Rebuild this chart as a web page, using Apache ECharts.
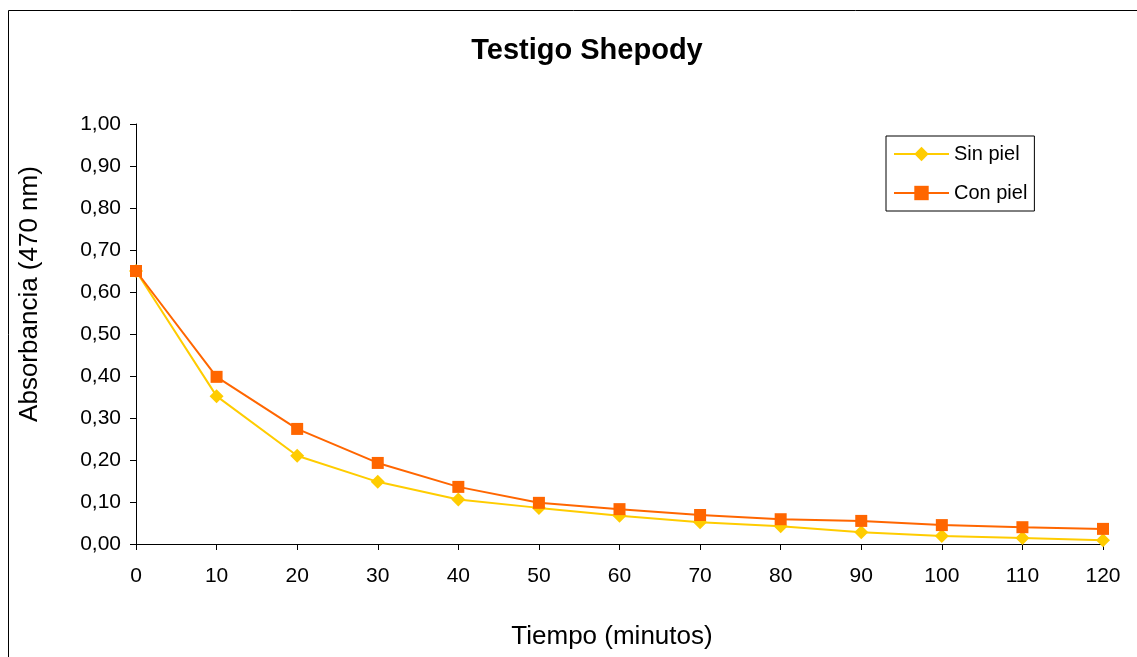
<!DOCTYPE html>
<html>
<head>
<meta charset="utf-8">
<script src="https://cdn.jsdelivr.net/npm/echarts@6/dist/echarts.min.js"></script>
<style>html,body{margin:0;padding:0;background:#fff}#c{width:1137px;height:657px}</style>
</head>
<body>
<div id="c"></div>
<script>
const categories = ['0','10','20','30','40','50','60','70','80','90','100','110','120'];
const sinPiel = [0.65, 0.352, 0.21, 0.148, 0.106, 0.086, 0.067, 0.052, 0.042, 0.028, 0.019, 0.014, 0.009];
const conPiel = [0.65, 0.398, 0.274, 0.193, 0.136, 0.098, 0.083, 0.069, 0.059, 0.055, 0.045, 0.040, 0.036];
const titleText = 'Testigo Shepody';
const xName = 'Tiempo (minutos)';
const yName = 'Absorbancia (470 nm)';

const chart = echarts.init(document.getElementById('c'), null, {renderer: 'canvas'});
const font = 'Liberation Sans, Arial, sans-serif';
chart.setOption({
  animation: false,
  backgroundColor: '#fff',
  textStyle: {fontFamily: font},
  title: {
    text: titleText, left: 582, top: 31, textAlign: 'center',
    textStyle: {fontSize: 29, fontWeight: 'bold', color: '#000', fontFamily: font}
  },
  graphic: [
    {
      type: 'rect', shape: {x: 8.5, y: 10.5, width: 1140, height: 660},
      style: {fill: 'none', stroke: '#000', lineWidth: 1}, silent: true, z: -1
    },
    {
      type: 'text', x: 30, y: 294, rotation: Math.PI / 2,
      style: {text: yName, font: '26px ' + font, fill: '#000', textAlign: 'center', textVerticalAlign: 'middle'}
    },
    {
      type: 'text', x: 612, y: 637,
      style: {text: xName, font: '26px ' + font, fill: '#000', textAlign: 'center', textVerticalAlign: 'middle'}
    }
  ],
  legend: {
    left: 886, top: 136, orient: 'vertical', itemGap: 19,
    padding: [8, 7, 8, 7],
    borderColor: '#000', borderWidth: 1, backgroundColor: '#fff',
    itemWidth: 55, itemHeight: 18,
    textStyle: {fontSize: 20, color: '#000', fontFamily: font},
    data: ['Sin piel', 'Con piel']
  },
  grid: {left: 136, top: 124, right: 34, bottom: 113, containLabel: false},
  xAxis: {
    type: 'category', data: categories, boundaryGap: false,
    axisLine: {lineStyle: {color: '#000', width: 1}},
    axisTick: {show: true, length: 6, lineStyle: {color: '#000'}, alignWithLabel: true},
    axisLabel: {fontSize: 21, color: '#000', margin: 22, fontFamily: font},
    splitLine: {show: false}
  },
  yAxis: {
    type: 'value', min: 0, max: 1, interval: 0.1,
    axisLine: {show: true, lineStyle: {color: '#000', width: 1}},
    axisTick: {show: true, length: 6, lineStyle: {color: '#000'}},
    axisLabel: {fontSize: 21, color: '#000', margin: 15, fontFamily: font,
      formatter: v => v.toFixed(2).replace('.', ',')},
    splitLine: {show: false}
  },
  series: [
    {
      name: 'Sin piel', type: 'line', data: sinPiel,
      symbol: 'diamond', symbolSize: 14,
      lineStyle: {color: '#FFCC00', width: 2},
      itemStyle: {color: '#FFCC00'}, z: 2
    },
    {
      name: 'Con piel', type: 'line', data: conPiel,
      symbol: 'rect', symbolSize: 12,
      lineStyle: {color: '#FF6600', width: 2},
      itemStyle: {color: '#FF6600'}, z: 3
    }
  ]
});
</script>
</body>
</html>
